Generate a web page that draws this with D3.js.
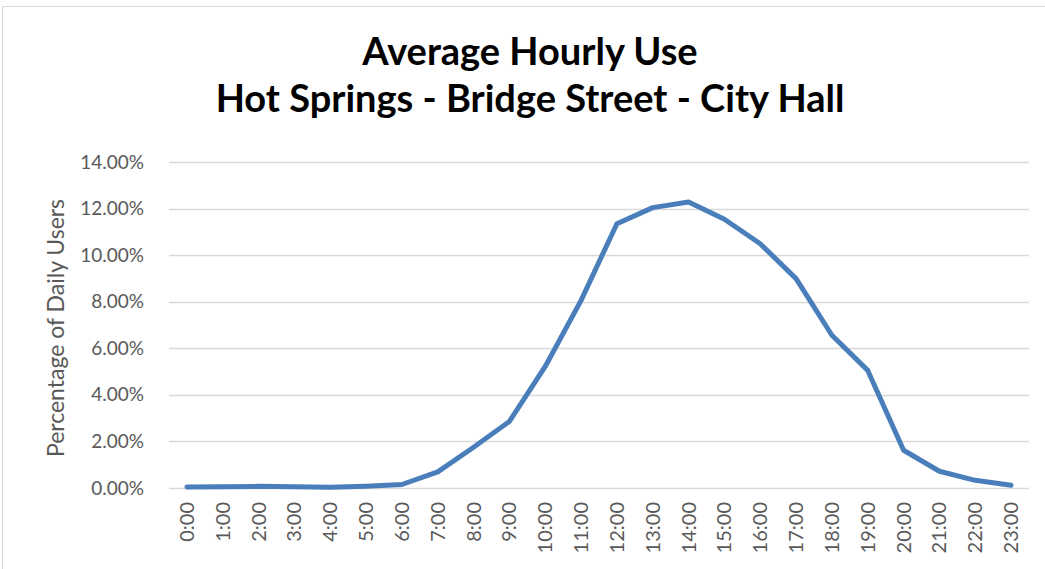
<!DOCTYPE html>
<html>
<head>
<meta charset="utf-8">
<script src="https://cdn.jsdelivr.net/npm/d3@7"></script>
<style>
  body { margin: 0; background: #fff; }
  svg { display: block; font-family: Lato, "Open Sans", sans-serif; }
</style>
</head>
<body>
<div id="chart"></div>
<script>
// Dados
const horas = ["0:00","1:00","2:00","3:00","4:00","5:00","6:00","7:00","8:00","9:00","10:00","11:00",
               "12:00","13:00","14:00","15:00","16:00","17:00","18:00","19:00","20:00","21:00","22:00","23:00"];
const percentuais = [0.04, 0.05, 0.07, 0.05, 0.03, 0.08, 0.15, 0.69, 1.75, 2.86, 5.22, 8.06,
                     11.35, 12.04, 12.28, 11.54, 10.49, 8.99, 6.56, 5.05, 1.62, 0.72, 0.33, 0.12];
const ticksY = [0, 2, 4, 6, 8, 10, 12, 14];
const titulo = ["Average Hourly Use", "Hot Springs - Bridge Street - City Hall"];
const rotuloY = "Percentage of Daily Users";

const largura = 1045;
const altura = 569;
const margem = { top: 162, right: 16, bottom: 81, left: 169 };

const svg = d3.select("#chart").append("svg")
    .attr("width", largura)
    .attr("height", altura);

// Borda da área do gráfico
svg.append("rect")
    .attr("x", 2.5).attr("y", 6.5)
    .attr("width", largura).attr("height", altura)
    .attr("fill", "none")
    .attr("stroke", "#d9d9d9");

// Escalas
const escalaX = d3.scaleBand()
    .domain(horas)
    .range([margem.left, largura - margem.right]);

const escalaY = d3.scaleLinear()
    .domain([0, 14])
    .range([altura - margem.bottom, margem.top]);

// Linhas de grade
svg.append("g")
    .selectAll("line")
    .data(ticksY)
    .join("line")
    .attr("x1", margem.left)
    .attr("x2", largura - margem.right)
    .attr("y1", d => Math.round(escalaY(d)) + 0.5)
    .attr("y2", d => Math.round(escalaY(d)) + 0.5)
    .attr("stroke", "#d9d9d9")
    .attr("stroke-width", 1.3);

// Eixo Y (só os rótulos)
const eixoY = svg.append("g")
    .attr("transform", `translate(${margem.left - 22},0)`)
    .call(d3.axisLeft(escalaY).tickValues(ticksY).tickSize(0).tickFormat(d => d.toFixed(2) + "%"));
eixoY.select(".domain").remove();
eixoY.selectAll("text")
    .attr("fill", "#595959")
    .style("font-size", "19px")
    .style("font-family", "Lato, sans-serif");

// Eixo X com rótulos verticais
const eixoX = svg.append("g")
    .attr("transform", `translate(0,${altura - margem.bottom})`)
    .call(d3.axisBottom(escalaX).tickSize(0));
eixoX.select(".domain").remove();
eixoX.selectAll("text")
    .attr("fill", "#595959")
    .style("font-size", "20px")
    .style("font-family", "Lato, sans-serif")
    .attr("transform", "rotate(-90)")
    .attr("text-anchor", "end")
    .attr("dy", "0.35em")
    .attr("x", -14)
    .attr("y", 0);

// Linha da série
const linha = d3.line()
    .x((d, i) => escalaX(horas[i]) + escalaX.bandwidth() / 2)
    .y(d => escalaY(d));

svg.append("path")
    .datum(percentuais)
    .attr("d", linha)
    .attr("fill", "none")
    .attr("stroke", "#4a7ebb")
    .attr("stroke-width", 5)
    .attr("stroke-linejoin", "round")
    .attr("stroke-linecap", "round");

// Título do eixo Y
svg.append("text")
    .attr("transform", `translate(64,${(margem.top + altura - margem.bottom) / 2 + 3}) rotate(-90)`)
    .attr("text-anchor", "middle")
    .attr("fill", "#595959")
    .style("font-size", "23px")
    .text(rotuloY);

// Título
svg.append("g")
    .selectAll("text")
    .data(titulo)
    .join("text")
    .attr("x", 530)
    .attr("y", (d, i) => 65 + i * 47)
    .attr("text-anchor", "middle")
    .style("font-size", "38px")
    .style("font-weight", "bold")
    .attr("fill", "#000")
    .text(d => d);
</script>
</body>
</html>
